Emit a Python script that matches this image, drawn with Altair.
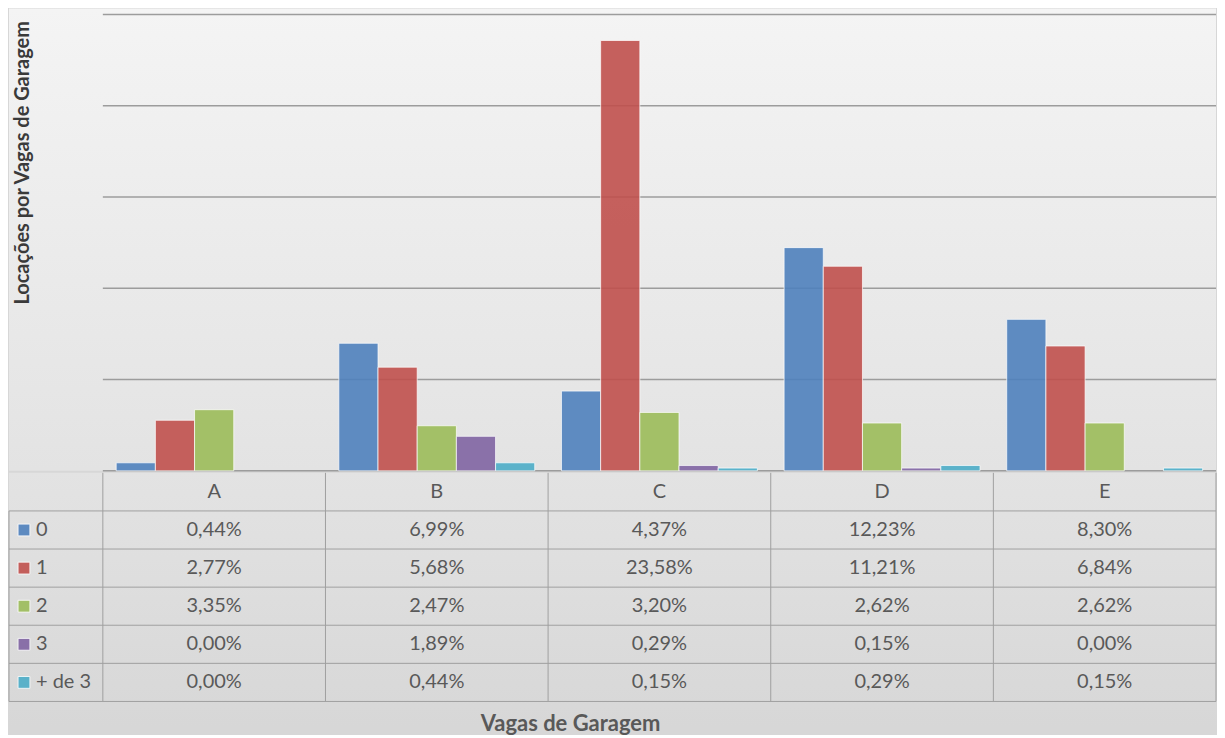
import altair as alt
import pandas as pd

categories = ["A", "B", "C", "D", "E"]
series = ["0", "1", "2", "3", "+ de 3"]
vals_0 = [0.44, 6.99, 4.37, 12.23, 8.30]
vals_1 = [2.77, 5.68, 23.58, 11.21, 6.84]
vals_2 = [3.35, 2.47, 3.20, 2.62, 2.62]
vals_3 = [0.00, 1.89, 0.29, 0.15, 0.00]
vals_4 = [0.00, 0.44, 0.15, 0.29, 0.15]
colors = ["#4F81BD", "#C0504D", "#9BBB59", "#8064A2", "#4BACC6"]
y_ticks = [0, 5, 10, 15, 20, 25]

rows = []
for s, vals in zip(series, [vals_0, vals_1, vals_2, vals_3, vals_4]):
    for c, v in zip(categories, vals):
        rows.append({"cat": c, "series": s, "value": v})
df = pd.DataFrame(rows)

W = 1115
H = 457
TH = 229
LW = 94
FONT = "Lato"
TXT = "#595959"
GRID = "#9c9c9c"
TLINE = "#a0a0a0"
TFS = 20

one = pd.DataFrame({"k": [0]})
color_scale = alt.Scale(domain=series, range=colors)


def grad(c0, c1):
    return alt.LinearGradient(
        gradient="linear",
        stops=[alt.GradientStop(color=c0, offset=0), alt.GradientStop(color=c1, offset=1)],
        x1=0, x2=0, y1=0, y2=1,
    )


# ---------- top panel: columns ----------
bg_top = alt.Chart(one).mark_rect(fill=grad("#f4f4f4", "#e3e3e3")).encode(
    x=alt.value(-LW), x2=alt.value(W), y=alt.value(-6), y2=alt.value(H)
)

yscale_top = alt.Scale(domain=[0, 25], nice=False)
y_axis = alt.Axis(labels=False, ticks=False, domain=False, grid=False, zindex=2,
                  title="Locações por Vagas de Garagem", titleX=-90, titleY=148,
                  titleAngle=270, titleBaseline="top", titleAlign="center", titleFont=FONT,
                  titleFontSize=20, titleFontWeight="bold", titleColor="#3a3a3a")

grid = alt.Chart(pd.DataFrame({"t": y_ticks})).mark_rule(color=GRID, strokeWidth=1.5).encode(
    y=alt.Y("t:Q", scale=yscale_top, axis=y_axis)
)

bars = alt.Chart(df).transform_filter("datum.value > 0").mark_bar(
    fillOpacity=0.9, stroke="#ffffff", strokeWidth=1, strokeOpacity=0.7
).encode(
    x=alt.X("cat:N", sort=categories,
            scale=alt.Scale(domain=categories, paddingInner=0.12, paddingOuter=0.06), axis=None),
    xOffset=alt.XOffset("series:N", sort=series, scale=alt.Scale(domain=series, paddingInner=0, paddingOuter=0)),
    y=alt.Y("value:Q", scale=yscale_top, axis=y_axis),
    color=alt.Color("series:N", scale=color_scale, legend=None),
)

top = alt.layer(bg_top, grid, bars).properties(width=W, height=H)

# ---------- bottom panel: data table ----------
row_order = ["hdr"] + series
yscale_t = alt.Scale(domain=row_order, paddingInner=0, paddingOuter=0)
xscale_t = alt.Scale(domain=categories, paddingInner=0, paddingOuter=0)

bg_bot = alt.Chart(one).mark_rect(fill=grad("#e3e3e3", "#d7d7d7")).encode(
    x=alt.value(-LW), x2=alt.value(W), y=alt.value(0), y2=alt.value(254)
)

cat_df = pd.DataFrame({"cat": categories, "row": ["hdr"] * len(categories)})
ser_df = pd.DataFrame({"row": series})

x_axis_t = alt.Axis(labels=False, ticks=False, domain=False, zindex=2, title="Vagas de Garagem",
                    titleX=468, titleY=22, titleBaseline="middle", titleFont=FONT,
                    titleFontSize=22, titleFontWeight="bold", titleColor=TXT)

vlines = alt.Chart(cat_df).mark_rule(color=TLINE, strokeWidth=1).encode(
    x=alt.X("cat:N", scale=xscale_t, bandPosition=0, axis=x_axis_t),
    y=alt.value(0), y2=alt.value(TH),
)

right_line = alt.Chart(one).mark_rule(color=TLINE, strokeWidth=1).encode(
    x=alt.value(W), y=alt.value(0), y2=alt.value(TH)
)

hlines = alt.Chart(ser_df).mark_rule(color=TLINE, strokeWidth=1).encode(
    y=alt.Y("row:N", scale=yscale_t, bandPosition=0, axis=None),
    x=alt.value(-LW), x2=alt.value(W),
)

bottom_line = alt.Chart(one).mark_rule(color=TLINE, strokeWidth=1).encode(
    y=alt.value(TH), x=alt.value(-LW), x2=alt.value(W)
)

left_line = alt.Chart(ser_df).transform_filter("datum.row == '0'").mark_rule(
    color=TLINE, strokeWidth=1
).encode(
    x=alt.value(-LW),
    y=alt.Y("row:N", scale=yscale_t, bandPosition=0, axis=None),
    y2=alt.value(TH),
)

hdr_text = alt.Chart(cat_df).mark_text(font=FONT, fontSize=TFS, color=TXT).encode(
    x=alt.X("cat:N", scale=xscale_t, axis=x_axis_t),
    y=alt.Y("row:N", scale=yscale_t, axis=None),
    text="cat:N",
)

val_text = alt.Chart(df).transform_calculate(
    lbl="replace(format(datum.value, '.2f'), '.', ',') + '%'",
    row="datum.series",
).mark_text(font=FONT, fontSize=TFS, color=TXT).encode(
    x=alt.X("cat:N", scale=xscale_t, axis=x_axis_t),
    y=alt.Y("row:N", scale=yscale_t, axis=None),
    text="lbl:N",
)

leg_sq = alt.Chart(ser_df).mark_square(
    size=140, filled=True, fillOpacity=0.9, stroke="#ffffff", strokeWidth=1, strokeOpacity=0.8
).encode(
    x=alt.value(-79),
    y=alt.Y("row:N", scale=yscale_t, axis=None),
    color=alt.Color("row:N", scale=color_scale, legend=None),
)

leg_txt = alt.Chart(ser_df).mark_text(font=FONT, fontSize=TFS, color=TXT, align="left").encode(
    x=alt.value(-67),
    y=alt.Y("row:N", scale=yscale_t, axis=None),
    text="row:N",
)

table = alt.layer(
    bg_bot, vlines, right_line, hlines, bottom_line, left_line, hdr_text, val_text, leg_sq, leg_txt
).properties(width=W, height=TH)

chart = alt.vconcat(top, table, spacing=0).resolve_scale(
    x="independent", y="independent", color="independent", xOffset="independent"
).properties(
    padding={"left": 0, "top": 0, "right": 0, "bottom": 0}
).configure(
    background="#d7d7d7"
).configure_view(
    stroke=None
)

chart.save("out.html", embed_options={"renderer": "svg", "actions": False})
